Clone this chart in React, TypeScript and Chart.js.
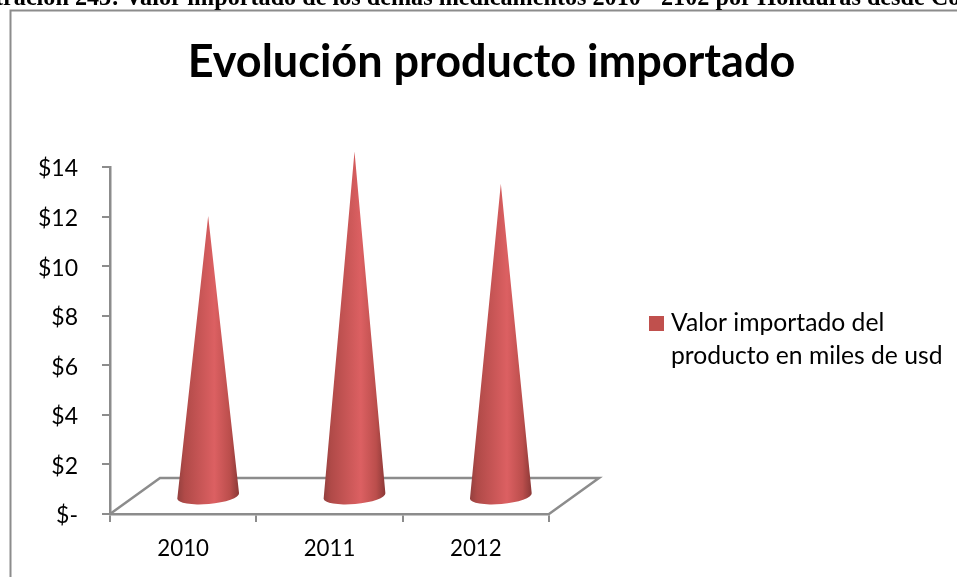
import React, { useEffect, useRef } from "react";
import { Chart, registerables } from "chart.js";

Chart.register(...registerables);

const categories = ["2010", "2011", "2012"];
const importedValues = [11.3, 13.9, 12.6];
const seriesLabel = "Valor importado del producto en miles de usd";
const legendLines = ["Valor importado del", "producto en miles de usd"];
const chartTitle = "Evolución producto importado";
const caption =
  "Ilustración 243: Valor importado de los demás medicamentos 2010 - 2102 por Honduras desde Colombia";

const AXIS = "#8c8c8c";
const RED = "#c0504d";
const FONT = "Lato";
const DEPTH_X = 50;
const DEPTH_Y = 36;

const conePlugin = {
  id: "cone3d",
  beforeDatasetsDraw(chart: any) {
    const { ctx, chartArea: a } = chart;
    ctx.save();
    ctx.strokeStyle = AXIS;
    ctx.lineWidth = 2.5;
    ctx.beginPath();
    ctx.moveTo(a.left, a.bottom);
    ctx.lineTo(a.left + DEPTH_X, a.bottom - DEPTH_Y);
    ctx.lineTo(a.right + DEPTH_X, a.bottom - DEPTH_Y);
    ctx.lineTo(a.right, a.bottom);
    ctx.stroke();
    ctx.restore();
  },
  afterDatasetsDraw(chart: any) {
    const { ctx, chartArea: a } = chart;
    const meta = chart.getDatasetMeta(0);
    const rx = 31;
    const ry = 8;
    const tilt = (-5 * Math.PI) / 180;
    meta.data.forEach((bar: any) => {
      const cx = bar.x + DEPTH_X / 2;
      const baseY = a.bottom - DEPTH_Y / 2;
      const apexY = bar.y - DEPTH_Y / 2;
      const g = ctx.createLinearGradient(cx - rx, 0, cx + rx, 0);
      g.addColorStop(0, "#93403e");
      g.addColorStop(0.12, "#b04a48");
      g.addColorStop(0.6, "#dc6062");
      g.addColorStop(0.85, "#bb4e4c");
      g.addColorStop(1, "#8a3836");
      ctx.save();
      ctx.fillStyle = g;
      ctx.beginPath();
      ctx.moveTo(cx, apexY);
      ctx.lineTo(cx + rx * Math.cos(tilt), baseY + rx * Math.sin(tilt));
      ctx.ellipse(cx, baseY, rx, ry, tilt, 0, Math.PI);
      ctx.closePath();
      ctx.fill();
      ctx.restore();
    });

    // legend
    ctx.save();
    ctx.fillStyle = RED;
    ctx.fillRect(649, 316, 15, 15);
    ctx.fillStyle = "#000";
    ctx.font = `24.7px ${FONT}`;
    ctx.textAlign = "left";
    ctx.textBaseline = "alphabetic";
    legendLines.forEach((line, i) => ctx.fillText(line, 671, 331 + i * 32.5));
    ctx.restore();
  },
  afterDraw(chart: any) {
    const { ctx } = chart;
    ctx.save();
    ctx.strokeStyle = AXIS;
    ctx.lineWidth = 2;
    ctx.beginPath();
    ctx.moveTo(10.5, 577);
    ctx.lineTo(10.5, 10.5);
    ctx.lineTo(957, 10.5);
    ctx.stroke();
    ctx.restore();
  },
};

export default function App() {
  const ref = useRef<HTMLCanvasElement | null>(null);
  useEffect(() => {
    document.body.style.margin = "0";
    document.body.style.background = "#fff";
    const chart = new Chart(ref.current as HTMLCanvasElement, {
      type: "bar",
      data: {
        labels: categories,
        datasets: [
          {
            label: seriesLabel,
            data: importedValues,
            backgroundColor: "rgba(0,0,0,0)",
            borderWidth: 0,
          },
        ],
      },
      plugins: [conePlugin],
      options: {
        responsive: false,
        animation: false,
        layout: { padding: { left: 26, right: 0, top: 0, bottom: 0 } },
        plugins: {
          legend: { display: false },
          tooltip: { enabled: false },
          title: {
            display: true,
            text: chartTitle,
            color: "#000",
            font: { family: FONT, size: 45, weight: "bold", lineHeight: 1.2 },
            padding: { top: 35, bottom: 78 },
          },
        },
        scales: {
          x: {
            afterFit: (s: any) => {
              s.height = 63;
            },
            border: { color: AXIS, width: 2.5 },
            grid: { color: AXIS, lineWidth: 2, drawOnChartArea: false, tickLength: 8 },
            ticks: { color: "#000", font: { family: FONT, size: 22.3 }, padding: 13, maxRotation: 0 },
          },
          y: {
            min: 0,
            max: 14,
            afterFit: (s: any) => {
              s.width = 84;
            },
            border: { color: AXIS, width: 2.5 },
            grid: { color: AXIS, lineWidth: 2, drawOnChartArea: false, tickLength: 8 },
            ticks: {
              stepSize: 2,
              color: "#000",
              font: { family: FONT, size: 23 },
              padding: 24,
              labelOffset: 2,
              callback: (v: any) => (v === 0 ? "$-" : `$${v}`),
            },
          },
          gutter: {
            type: "linear",
            position: "right",
            display: true,
            afterFit: (s: any) => {
              s.width = 408;
            },
            border: { display: false },
            grid: { display: false },
            ticks: { display: false },
          },
        },
      } as any,
    });
    return () => chart.destroy();
  }, []);

  return (
    <div style={{ position: "absolute", left: 0, top: 0, width: 957, height: 577, overflow: "hidden", background: "#fff" }}>
      <canvas ref={ref} width={957} height={577} style={{ display: "block" }} />
      <div
        style={{
          position: "absolute",
          left: -44,
          top: -15,
          whiteSpace: "nowrap",
          fontFamily: "'Liberation Serif'",
          fontWeight: "bold",
          fontSize: 24.2,
          lineHeight: "24px",
          color: "#000",
        }}
      >
        {caption}
      </div>
    </div>
  );
}
